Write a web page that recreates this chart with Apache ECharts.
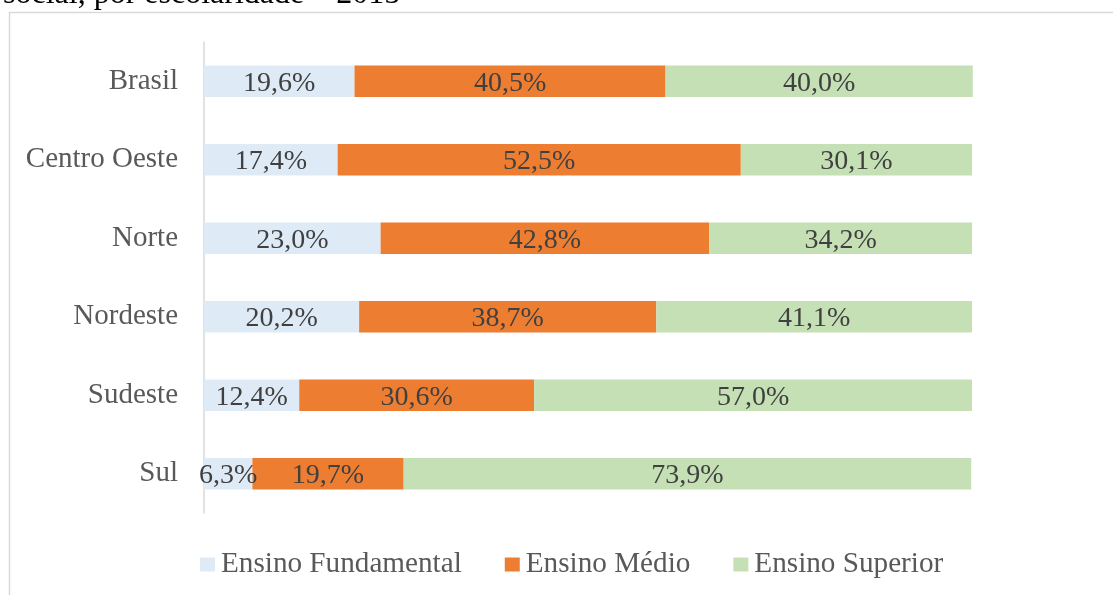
<!DOCTYPE html>
<html>
<head>
<meta charset="utf-8">
<script src="https://cdn.jsdelivr.net/npm/echarts@6/dist/echarts.min.js"></script>
<style>html,body{margin:0;padding:0;background:#fff}#c{width:1113px;height:595px}</style>
</head>
<body>
<div id="c"></div>
<script>
const categories = ["Brasil", "Centro Oeste", "Norte", "Nordeste", "Sudeste", "Sul"];
const seriesNames = ["Ensino Fundamental", "Ensino Médio", "Ensino Superior"];
const fundamental = [19.6, 17.4, 23.0, 20.2, 12.4, 6.3];
const medio = [40.5, 52.5, 42.8, 38.7, 30.6, 19.7];
const superior = [40.0, 30.1, 34.2, 41.1, 57.0, 73.9];
const colors = ["#DEEBF7", "#ED7D31", "#C5E0B4"];
const titleText = "social, por escolaridade – 2015";

const font = "'Liberation Serif', 'Times New Roman', serif";
const fmt = p => p.value.toFixed(1).replace('.', ',') + '%';
const mk = (name, data, color) => ({
  name, type: 'bar', stack: 'total', data, barWidth: '40%', clip: false,
  itemStyle: { color },
  label: { show: true, position: 'inside', offset: [0, 2], formatter: fmt, color: '#404040', fontFamily: font, fontSize: 28 }
});

const chart = echarts.init(document.getElementById('c'), null, { renderer: 'canvas' });
chart.setOption({
  animation: false,
  textStyle: { fontFamily: font },
  graphic: [
    { type: 'rect', shape: { x: 9.5, y: 12.5, width: 1200, height: 700 }, style: { fill: 'none', stroke: '#d9d9d9', lineWidth: 1.5 }, silent: true, z: -10 },
    { type: 'text', left: 3, top: -21, style: { text: titleText, fontFamily: font, fontSize: 32, fill: '#000' } }
  ],
  grid: { left: 204, right: 141, top: 42, bottom: 82, containLabel: false },
  legend: {
    left: 195, top: 545, itemWidth: 15, itemHeight: 14, itemGap: 43,
    icon: 'rect', data: seriesNames,
    textStyle: { fontFamily: font, fontSize: 29.2, color: '#595959', padding: [0, 0, 0, 1] }
  },
  xAxis: { type: 'value', min: 0, max: 100, show: false },
  yAxis: {
    type: 'category', data: categories, inverse: true,
    axisLine: { show: true, lineStyle: { color: '#d9d9d9', width: 1.5 } },
    axisTick: { show: false },
    axisLabel: { margin: 26, fontFamily: font, fontSize: 29, color: '#595959' }
  },
  series: [
    mk(seriesNames[0], fundamental, colors[0]),
    mk(seriesNames[1], medio, colors[1]),
    mk(seriesNames[2], superior, colors[2])
  ]
});
</script>
</body>
</html>
